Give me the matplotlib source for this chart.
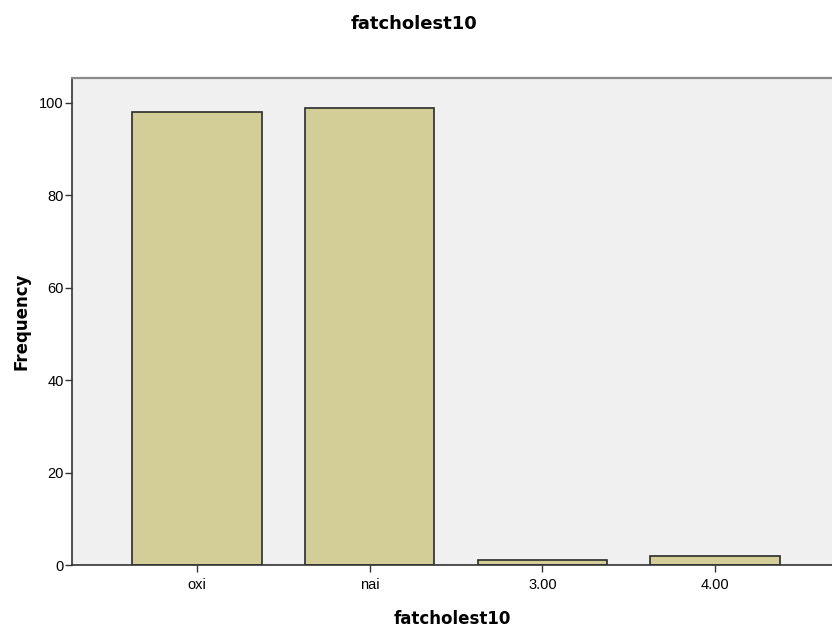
import matplotlib
matplotlib.use("Agg")
import matplotlib.pyplot as plt

plt.rcParams['font.family'] = ['Liberation Sans', 'DejaVu Sans']

categories = ['oxi', 'nai', '3.00', '4.00']
frequency = [98, 99, 1, 2]
y_ticks = [0, 20, 40, 60, 80, 100]

fig = plt.figure(figsize=(8.32, 6.26), dpi=100)
ax = fig.add_axes([0.0865, 0.0974, 0.9135, 0.778])
ax.set_facecolor('#f0f0f0')

x = list(range(len(categories)))
ax.bar(x, frequency, width=0.75, color='#d3ce98', edgecolor='#2b2b2b', linewidth=1.2)

ax.set_xlim(-0.723, 3.676)
ax.set_ylim(0, 105.4)
ax.set_xticks(x)
ax.set_xticklabels(categories)
ax.set_yticks(y_ticks)
ax.tick_params(axis='both', direction='out', length=5, width=1, labelsize=10.5, color='#333333')
ax.tick_params(axis='x', pad=4)
ax.tick_params(axis='y', pad=1)

for side in ['left', 'bottom']:
    ax.spines[side].set_color('#333333')
    ax.spines[side].set_linewidth(1.2)
ax.spines['top'].set_color('#8a8a8a')
ax.spines['top'].set_linewidth(1.6)
ax.spines['right'].set_visible(False)

bold = dict(family='DejaVu Sans', fontweight='bold')
ax.set_xlabel('fatcholest10', fontsize=12, labelpad=13, **bold)
ax.set_ylabel('Frequency', fontsize=12, labelpad=6, **bold)
fig.text(0.4975, 0.962, 'fatcholest10', ha='center', va='center', fontsize=13, **bold)

fig.savefig('out.png', dpi=100)
